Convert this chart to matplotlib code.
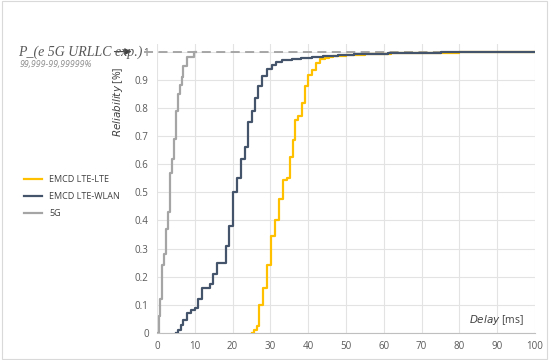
import numpy as np
import matplotlib
matplotlib.use('Agg')
from matplotlib import pyplot as plt
from matplotlib.patches import Rectangle

# Delay [ms] / reliability step points
delay_5g = [0.1, 0.6, 0.9, 1.4, 1.8, 2.4, 3.0, 3.4, 4.0, 4.5, 5.0, 5.5, 6.0, 6.5, 7.0, 8.0, 9.8, 10.3]
rel_5g = [0.0, 0.06, 0.12, 0.24, 0.28, 0.37, 0.43, 0.57, 0.62, 0.69, 0.79, 0.85, 0.88, 0.91, 0.95, 0.98, 1.0, 1.0]

delay_wlan = [4.9, 5.6, 6.3, 7.0, 8.0, 8.9, 10.0, 10.9, 12.0, 14.0, 14.9, 16.0, 18.3, 19.0, 20.0,
              21.1, 22.1, 23.3, 24.2, 25.0, 25.9, 26.8, 27.7, 29.0, 30.3, 31.5, 33.0, 35.6, 38.0,
              41.0, 44.0, 48.0, 52.0, 56.0, 61.0, 68.0, 75.0, 85.0, 100]
rel_wlan = [0.0, 0.01, 0.03, 0.045, 0.07, 0.08, 0.09, 0.12, 0.16, 0.175, 0.21, 0.25, 0.31, 0.38,
            0.50, 0.55, 0.62, 0.66, 0.75, 0.79, 0.835, 0.877, 0.912, 0.938, 0.952, 0.962, 0.97,
            0.975, 0.978, 0.98, 0.983, 0.987, 0.99, 0.992, 0.994, 0.996, 0.998, 0.999, 1.0]

delay_lte = [25.0, 25.7, 26.4, 27.1, 28.1, 29.2, 30.2, 31.2, 32.4, 33.4, 34.3, 35.2, 36.1, 36.5,
             37.4, 38.3, 39.2, 40.0, 40.9, 42.1, 43.1, 44.4, 45.5, 46.6, 50.0, 55.0, 62.0, 70.0,
             80.0, 100]
rel_lte = [0.0, 0.01, 0.025, 0.10, 0.16, 0.24, 0.345, 0.40, 0.476, 0.544, 0.55, 0.627, 0.687, 0.758,
           0.77, 0.817, 0.877, 0.918, 0.936, 0.96, 0.972, 0.978, 0.982, 0.986, 0.989, 0.992, 0.994,
           0.996, 0.998, 1.0]

x_ticks = list(range(0, 101, 10))
y_ticks = [0, 0.1, 0.2, 0.3, 0.4, 0.5, 0.6, 0.7, 0.8, 0.9, 1]
y_tick_labels = ['0', '0.1', '0.2', '0.3', '0.4', '0.5', '0.6', '0.7', '0.8', '0.9', '1']

plt.rcParams['font.family'] = ['Open Sans', 'DejaVu Sans']

fig = plt.figure(figsize=(5.49, 3.6), dpi=100)
ax = fig.add_axes([157 / 549, 27 / 360, 378 / 549, 289 / 360])

ax.step(delay_lte, rel_lte, where='post', color='#FFC000', lw=1.6, label='EMCD LTE-LTE', zorder=3)
ax.step(delay_wlan, rel_wlan, where='post', color='#44546A', lw=1.6, label='EMCD LTE-WLAN', zorder=4)
ax.step(delay_5g, rel_5g, where='post', color='#A5A5A5', lw=1.6, label='5G', zorder=3)

# dashed target line at 1
ax.plot([-3.5, 100], [1, 1], ls=(0, (5, 3)), color='#A0A0A0', lw=1.3, clip_on=False, zorder=2)

ax.set_xlim(0, 100)
ax.set_ylim(0, 1.027)
ax.set_xticks(x_ticks)
ax.set_yticks(y_ticks)
ax.set_yticklabels(y_tick_labels)
ax.grid(True, color='#E3E3E3', lw=0.8)
ax.set_axisbelow(True)
for side in ['top', 'right', 'left']:
    ax.spines[side].set_visible(False)
ax.spines['bottom'].set_color('#BFBFBF')
ax.tick_params(length=0, labelsize=7, colors='#595959', pad=6)

ax.set_ylabel(r'$\mathit{Reliability}$ [%]', fontsize=7.5, color='#404040')
ax.yaxis.set_label_coords(-0.085, 0.8)
ax.text(97, 0.045, r'$\mathit{Delay}$ [ms]', fontsize=7.5, color='#404040', ha='right', va='center')

fig.legend(loc='upper left', bbox_to_anchor=(16 / 549, 1 - 167 / 360), frameon=False,
           fontsize=6.5, handlelength=2.0, labelspacing=0.9, labelcolor='#404040')

fig.text(18 / 549, 1 - 52 / 360, 'P_(e 5G URLLC exp.)', family='Liberation Serif', style='italic',
         fontsize=10, color='#595959', va='center')
fig.text(20 / 549, 1 - 64 / 360, '99,999-99,99999%', style='italic', fontsize=6.3,
         color='#8C8C8C', va='center')
ax.annotate('', xy=(-6, 1), xytext=(-12, 1), annotation_clip=False,
            arrowprops=dict(arrowstyle='-|>', color='#404040', lw=0.8))

fig.patches.append(Rectangle((0.004, 0.004), 0.992, 0.992, transform=fig.transFigure,
                             fill=False, edgecolor='#D9D9D9', lw=0.8))

fig.savefig('out.png', dpi=100)
plt.close(fig)
